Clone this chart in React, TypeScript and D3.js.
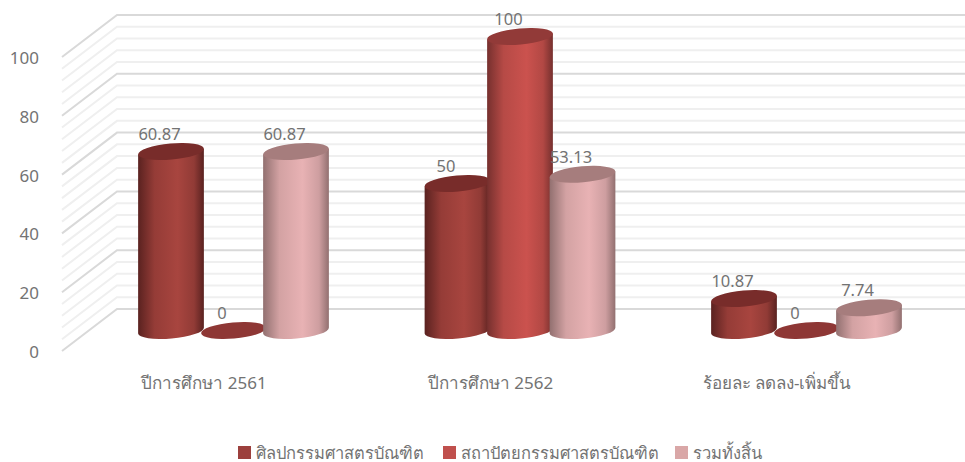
import React from "react";
import * as d3 from "d3";

const categories = ["ปีการศึกษา 2561", "ปีการศึกษา 2562", "ร้อยละ ลดลง-เพิ่มขึ้น"];
const seriesNames = ["ศิลปกรรมศาสตรบัณฑิต", "สถาปัตยกรรมศาสตรบัณฑิต", "รวมทั้งสิ้น"];
const series1 = [60.87, 50, 10.87];
const series2 = [0, 100, 0];
const series3 = [60.87, 53.13, 7.74];
const seriesValues = [series1, series2, series3];
const yTicks = [0, 20, 40, 60, 80, 100];
const minorTicks = d3.range(0, 101, 4);
const edgeColors = ["#5a2220", "#76302e", "#927070"];
const midColors = ["#a8453f", "#cb524e", "#e8b2b4"];
const topColors = ["#782c2a", "#923a38", "#a67d7d"];
const legendColors = ["#9c403d", "#c0504d", "#d9a7a7"];
const legendX = [238, 443, 675];

const FONT = "'Noto Sans', 'Open Sans', sans-serif";
const TEXT = "#737373";
const RX = 33;
const RY = 8;
const TILT = -5;
const DX = RX * Math.cos((TILT * Math.PI) / 180);
const DY = RX * Math.sin((TILT * Math.PI) / 180);

const y = d3.scaleLinear().domain([0, 100]).range([351, 57]);
const xGroup = d3.scaleBand<string>().domain(categories).range([90.25, 949.75]);
const xSeries = d3.scaleBand<number>().domain([0, 1, 2]).range([-93.75, 93.75]);
const depthX = 55;
const depthY = -42;
const barDepthY = depthY / 2 + 0.5;

function center(i: number, s: number) {
  return xGroup(categories[i])! + xGroup.bandwidth() / 2 + xSeries(s)! + xSeries.bandwidth() / 2;
}

export default function App() {
  return (
    <svg
      width={965}
      height={462}
      style={{ position: "absolute", left: 0, top: 0, background: "#fff", fontFamily: FONT }}
    >
      <defs>
        {midColors.map((c, s) => (
          <linearGradient id={`g${s}`} key={s} x1="0" x2="1" y1="0" y2="0">
            <stop offset="0" stopColor={edgeColors[s]} />
            <stop offset="0.25" stopColor={d3.interpolateRgb(edgeColors[s], c)(0.75)} />
            <stop offset="0.6" stopColor={c} />
            <stop offset="0.85" stopColor={d3.interpolateRgb(edgeColors[s], c)(0.7)} />
            <stop offset="1" stopColor={edgeColors[s]} />
          </linearGradient>
        ))}
      </defs>

      {minorTicks.map((t) => {
        const major = t % 20 === 0;
        const stroke = major ? "#d9d9d9" : "#efefef";
        const y0 = y(t);
        return (
          <g key={t} fill="none" stroke={stroke} strokeWidth={2}>
            <polyline
              points={`62,${y0} ${62 + depthX},${y0 + depthY} 965,${y0 + depthY}`}
            />
          </g>
        );
      })}

      {yTicks.map((t) => (
        <text key={t} x={39} y={y(t) + 7} textAnchor="end" fontSize={17} fill={TEXT}>
          {t}
        </text>
      ))}

      {categories.map((_, i) =>
        seriesValues.map((vals, s) => {
          const v = vals[i];
          const cx = center(i, s);
          const baseY = y(0) + barDepthY;
          const topY = y(v) + barDepthY;
          if (v === 0) {
            return (
              <ellipse
                key={`${i}-${s}`}
                cx={cx}
                cy={baseY}
                rx={32.5}
                ry={RY}
                fill="#8e3735"
                transform={`rotate(${TILT} ${cx} ${baseY})`}
              />
            );
          }
          const d = `M${cx - DX},${topY - DY} L${cx - DX},${baseY - DY} A${RX},${RY} ${TILT} 0 0 ${cx + DX},${baseY + DY} L${cx + DX},${topY + DY} Z`;
          return (
            <g key={`${i}-${s}`}>
              <path d={d} fill={`url(#g${s})`} />
              <ellipse
                cx={cx}
                cy={topY}
                rx={RX}
                ry={RY}
                fill={topColors[s]}
                transform={`rotate(${TILT} ${cx} ${topY})`}
              />
            </g>
          );
        })
      )}

      {categories.map((_, i) =>
        seriesValues.map((vals, s) => (
          <text
            key={`${i}-${s}`}
            x={center(i, s) - 11.5}
            y={y(vals[i]) + barDepthY - 11.5}
            textAnchor="middle"
            fontSize={16.5}
            fill={TEXT}
          >
            {vals[i]}
          </text>
        ))
      )}

      {categories.map((c, i) => (
        <text
          key={c}
          x={center(i, 1) - 29.5}
          y={388.5}
          textAnchor="middle"
          fontSize={17}
          fill={TEXT}
        >
          {c}
        </text>
      ))}

      {seriesNames.map((n, s) => (
        <g key={n}>
          <rect x={legendX[s]} y={446} width={13} height={13} fill={legendColors[s]} />
          <text x={legendX[s] + 18} y={458.5} fontSize={16.5} fill={TEXT}>
            {n}
          </text>
        </g>
      ))}
    </svg>
  );
}
